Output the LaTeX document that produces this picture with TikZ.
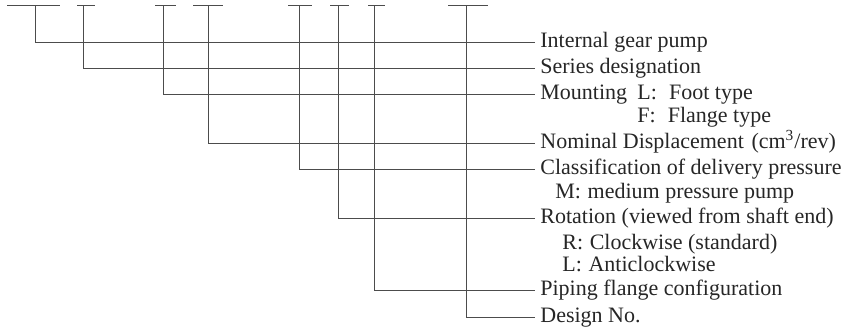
\documentclass[tikz,border=0pt]{standalone}
\usepackage{fontspec}
\setmainfont{Liberation Serif}

\def\subscale{.5}

\begin{document}
\begin{tikzpicture}[x=\subscale pt,y=-\subscale pt]
	\tikzstyle{lbl}=[anchor=west,inner xsep=2.5pt,inner ysep=0pt,text height=1.5ex,text depth=.3ex,text=black!85,font=\fontsize{11}{13}\selectfont]
	\tikzstyle{sub}=[lbl,inner xsep=0pt]
	\tikzstyle{ln}=[line width=.5pt,draw=black!70]
	\useasboundingbox (0,0) rectangle (843,329);
	% code fields: bar from \a to \b, stem at \s
	\foreach \a/\s/\b/\i in {7/35/60/1,77/83/95/2,155/163/176/3,193/208/223/4,288/299/312/5,330/338/349/6,368/374/385/7,448/466/488/8} {
		\draw[ln] (\a,5)--(\b,5);
		\coordinate (c\i) at (\s,5);
	}
	% labels
	\node[lbl] (l1) at (535,42) {Internal gear pump};
	\node[lbl] (l2) at (535,68) {Series designation};
	\node[lbl] (l3) at (535,94) {Mounting};
	\node[sub] (l3a) at (637,94) {L:\hspace{.55em}Foot type};
	\node[sub] (l3b) at (637,117) {F:\hspace{.55em}Flange type};
	\node[lbl] (l4) at (535,143) {Nominal Displacement\hspace{.35em}(cm\textsuperscript{3}/rev)};
	\node[lbl] (l5) at (535,169) {Classification of delivery pressure};
	\node[sub] (l5a) at (555,193) {M:\hspace{.3em}medium pressure pump};
	\node[lbl] (l6) at (535,218) {Rotation (viewed from shaft end)};
	\node[sub] (l6a) at (562,244) {R:\hspace{.3em}Clockwise (standard)};
	\node[sub] (l6b) at (562,266) {L:\hspace{.3em}Anticlockwise};
	\node[lbl] (l7) at (535,290) {Piping flange configuration};
	\node[lbl] (l8) at (535,317) {Design No.};
	\foreach \i in {1,...,8}
		\draw[ln] (c\i)|-(l\i.west);
\end{tikzpicture}
\end{document}
